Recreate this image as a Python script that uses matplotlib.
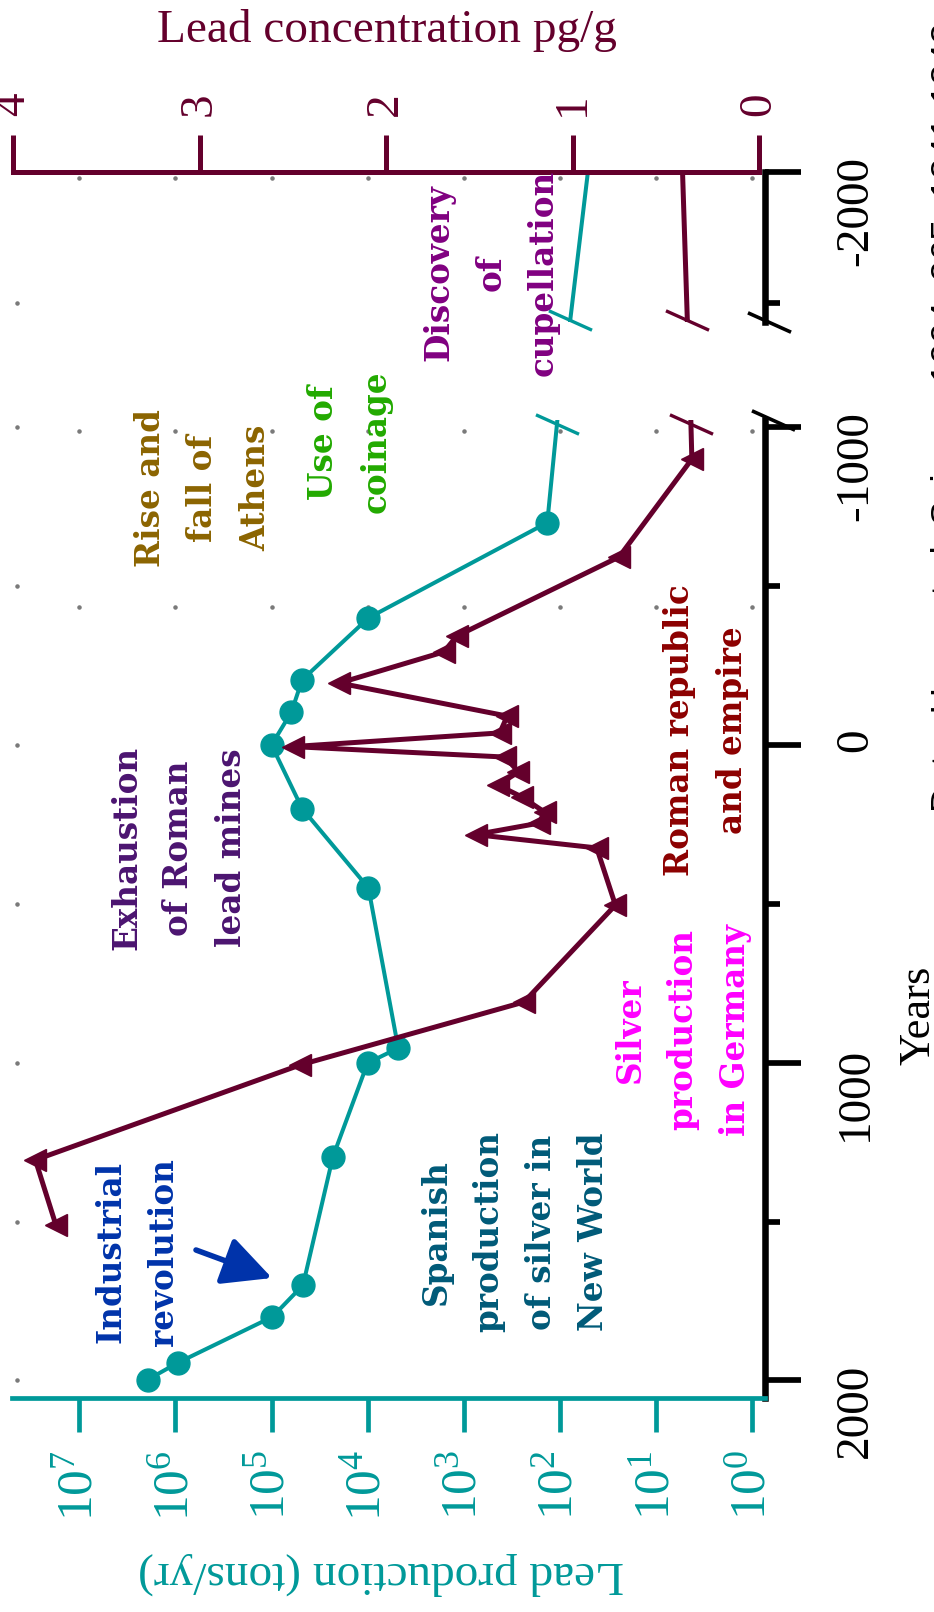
import numpy as np
import matplotlib
matplotlib.use("Agg")
import matplotlib.pyplot as plt
from matplotlib.ticker import FixedLocator, FixedFormatter, NullLocator

plt.rcParams['font.family'] = ['Liberation Serif', 'DejaVu Serif']
plt.rcParams['axes.unicode_minus'] = False
plt.rcParams['mathtext.fontset'] = 'custom'
plt.rcParams['mathtext.rm'] = 'Liberation Serif'

# ---- data ----
# lead production (tons/yr), teal circles
prod_years = [-2000, -700, -400, -205, -104, 0, 200, 450, 954, 1001, 1297, 1700, 1800, 1945, 1998]
prod_tons = [51, 135, 9800, 48000, 62000, 100000, 48000, 9800, 4800, 10000, 23000, 47000, 98000, 950000, 1950000]

# lead concentration in Greenland ice (pg/g), maroon triangles
conc_years = [-2000, -900, -592, -343, -293, -195, -91, -38, 5, 38, 85, 126, 164, 211, 246, 282,
              324, 504, 809, 1007, 1306, 1511]
conc_pgg = [0.41, 0.36, 0.75, 1.62, 1.69, 2.25, 1.35, 1.39, 2.50, 1.36, 1.29, 1.40, 1.27, 1.15, 1.18, 1.52,
            0.87, 0.77, 1.26, 2.46, 3.88, 3.77]

prod_ticks = [10 ** k for k in range(8)]
prod_ticklabels = [r'$\mathregular{10^{%d}}$' % k for k in range(8)]
conc_ticks = [0, 1, 2, 3, 4]
conc_ticklabels = ['0', '1', '2', '3', '4']
year_ticks_low = [-1000, 0, 1000, 2000]
year_ticklabels_low = ['-1000', '0', '1000', '2000']
year_minor_low = [-500, 500, 1500]
year_ticks_high = [-2000]
year_ticklabels_high = ['-2000']
year_minor_high = [-1500]

# faint grid dots
grid_rows_low = [-988, -434]
grid_rows_high = [-1977]

notes = [
    ("Discovery\nof\ncupellation", 491, 273, '#800080'),
    ("Use of\ncoinage", 350, 442, '#22aa00'),
    ("Rise and\nfall of\nAthens", 203, 488, '#8b6400'),
    ("Exhaustion\nof Roman\nlead mines", 179, 848, '#4b1470'),
    ("Roman republic\nand empire", 706, 730, '#8c0000'),
    ("Silver\nproduction\nin Germany", 683, 1030, '#ff00ff'),
    ("Spanish\nproduction\nof silver in\nNew World", 515, 1232, '#005a78'),
    ("Industrial\nrevolution", 137, 1252, '#0033aa'),
]

TEAL = '#009999'
MAROON = '#64002c'
BLUE = '#0033aa'
GREY = '#7a7a7a'

# ---- layout (pixels of a 934x1612 canvas) ----
W, H = 934, 1612
fig = plt.figure(figsize=(W / 100, H / 100), dpi=100)


def frame(left, top, right, bottom):
    return [left / W, 1 - bottom / H, (right - left) / W, (bottom - top) / H]


def logp_at(px):
    return (752 - px) / 96.1


def conc_at(px):
    return (759 - px) / 186.5


def year_low(py):
    return (py - 745) / 0.3177


def year_high(py):
    return -2000 + (py - 172) / 0.262


X0, X1 = 12, 765
prod_lim = (10 ** logp_at(X0), 10 ** logp_at(X1))
conc_lim = (conc_at(X0), conc_at(X1))

ax = fig.add_axes(frame(X0, 420, X1, 1398))       # years -1000 .. 2000
axt = fig.add_axes(frame(X0, 172, X1, 322))       # years -2000 .. -1500 (broken part)

for a, ylim in ((ax, (year_low(1398), year_low(420))), (axt, (year_high(322), year_high(172)))):
    a.set_xscale('log')
    a.set_xlim(*prod_lim)
    a.set_ylim(*ylim)
    a.patch.set_alpha(0)
    for s in a.spines.values():
        s.set_visible(False)
    a.spines['right'].set_visible(True)
    a.spines['right'].set_color('black')
    a.spines['right'].set_linewidth(4.7)
    a.yaxis.tick_right()
    a.tick_params(axis='y', which='major', direction='out', length=26, width=4.1, color='black',
                  labelsize=34, labelrotation=90, pad=24)
    a.tick_params(axis='y', which='minor', direction='out', length=11, width=4.1, color='black')

ax.yaxis.set_major_locator(FixedLocator(year_ticks_low))
ax.yaxis.set_major_formatter(FixedFormatter(year_ticklabels_low))
ax.yaxis.set_minor_locator(FixedLocator(year_minor_low))
axt.yaxis.set_major_locator(FixedLocator(year_ticks_high))
axt.yaxis.set_major_formatter(FixedFormatter(year_ticklabels_high))
axt.yaxis.set_minor_locator(FixedLocator(year_minor_high))

# production axis (bottom, teal)
ax.spines['bottom'].set_visible(True)
ax.spines['bottom'].set_color(TEAL)
ax.spines['bottom'].set_linewidth(3.4)
ax.xaxis.set_major_locator(FixedLocator(prod_ticks))
ax.xaxis.set_major_formatter(FixedFormatter(prod_ticklabels))
ax.xaxis.set_minor_locator(NullLocator())
ax.tick_params(axis='x', which='major', direction='out', length=24.5, width=3.4, color=TEAL,
               labelcolor=TEAL, labelsize=37, labelrotation=90, pad=13)
axt.xaxis.set_major_locator(NullLocator())
axt.xaxis.set_minor_locator(NullLocator())

# concentration twins
axc = ax.twiny()
axtc = axt.twiny()
for a in (axc, axtc):
    a.set_xlim(*conc_lim)
    a.patch.set_alpha(0)
    for s in a.spines.values():
        s.set_visible(False)
    a.xaxis.set_minor_locator(NullLocator())
axc.xaxis.set_major_locator(NullLocator())
axtc.spines['top'].set_visible(True)
axtc.spines['top'].set_color(MAROON)
axtc.spines['top'].set_linewidth(3.6)
axtc.spines['top'].set_bounds(0, 4)
axtc.xaxis.set_major_locator(FixedLocator(conc_ticks))
axtc.xaxis.set_major_formatter(FixedFormatter(conc_ticklabels))
axtc.tick_params(axis='x', which='major', direction='out', length=26.6, width=3.6, color=MAROON,
                 labelcolor=MAROON, labelsize=34, labelrotation=90, pad=14)

# grid dots
for a, rows in ((ax, grid_rows_low), (axt, grid_rows_high)):
    for r in rows:
        a.scatter(prod_ticks, [r] * len(prod_ticks), s=5, color=GREY, zorder=1, clip_on=False)
edge = 10 ** logp_at(17)
ax.scatter([edge] * 7, year_ticks_low + year_minor_low, s=5, color=GREY, zorder=1, clip_on=False)
axt.scatter([edge] * 2, year_ticks_high + year_minor_high, s=5, color=GREY, zorder=1, clip_on=False)

# series
for a, ac in ((ax, axc), (axt, axtc)):
    a.plot(prod_tons, prod_years, color=TEAL, lw=2.9, marker='o', ms=16.5,
           markevery=list(range(1, len(prod_years))), zorder=3)
    ac.plot(conc_pgg, conc_years, color=MAROON, lw=3.6, marker='<', ms=16.5,
            markevery=list(range(1, len(conc_years))), zorder=3)

# axis-break slashes
slash = [(-1, 0.45), (1, -0.45)]
log_prod = np.log10(prod_tons)
for a, ac, yb in ((axt, axtc, year_high(320)), (ax, axc, year_low(424))):
    a.plot([10 ** np.interp(yb, prod_years, log_prod)], [yb], marker=slash, ms=31, mew=2.4,
           mec=TEAL, ls='none', clip_on=False, zorder=4)
    ac.plot([np.interp(yb, conc_years, conc_pgg)], [yb], marker=slash, ms=31, mew=2.4,
            mec=MAROON, ls='none', clip_on=False, zorder=4)
axt.plot([1.005], [0.0], marker=slash, ms=31, mew=2.6, mec='black', ls='none',
         transform=axt.transAxes, clip_on=False)
ax.plot([1.01], [1.0], marker=slash, ms=31, mew=2.6, mec='black', ls='none',
        transform=ax.transAxes, clip_on=False)

# annotations
for txt, px, py, col in notes:
    fig.text(px / W, 1 - py / H, txt, rotation=90, ha='center', va='center', multialignment='center',
             color=col, fontsize=23.5, fontweight='bold', family='DejaVu Serif', linespacing=1.75)

ax.annotate('', xy=(10 ** logp_at(272), year_low(1278)), xytext=(10 ** logp_at(196), year_low(1250)),
            arrowprops=dict(arrowstyle='-|>,head_length=1.5,head_width=0.75', color=BLUE, lw=4,
                            mutation_scale=20, shrinkA=0, shrinkB=0))

# axis titles
fig.text(387 / W, 1 - 31 / H, 'Lead concentration pg/g', ha='center', va='center', color=MAROON, fontsize=34)
fig.text(381 / W, 1 - 1573 / H, 'Lead production (tons/yr)', ha='center', va='center', color=TEAL,
         fontsize=34, rotation=180)
fig.text(929 / W, 1 - 1015 / H, 'Years', rotation=90, rotation_mode='anchor', ha='center', va='baseline',
         fontsize=32, color='black')
fig.text(958 / W, 1 - 812 / H, 'Data: Hong et al. Science 1994, 265, 1841-1843', rotation=90,
         rotation_mode='anchor', ha='left', va='baseline', fontsize=26.6, color='black',
         family='Liberation Sans')

fig.savefig('out.png', dpi=100)
